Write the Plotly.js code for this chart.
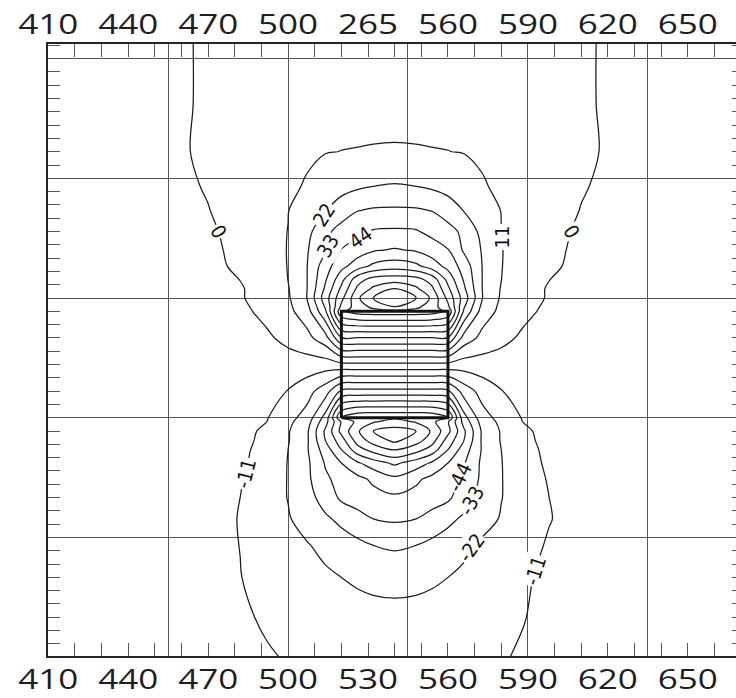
<!DOCTYPE html>
<html>
<head>
<meta charset="utf-8">
<script src="https://cdn.plot.ly/plotly-3.0.1.min.js"></script>
<style>
  html, body { margin: 0; padding: 0; background: #fff; overflow: hidden; }
  #chart { width: 760px; height: 698px; }
  /* wide tick numerals */
  g.xtick, g.x2tick { transform-box: fill-box; transform-origin: center; transform: scaleX(1.25); }
</style>
</head>
<body>
<div id="chart"></div>
<script>
// Axis tick labels
const xTickValues = [410, 440, 470, 500, 530, 560, 590, 620, 650];
const bottomTickText = ['410', '440', '470', '500', '530', '560', '590', '620', '650'];
const topTickText = ['410', '440', '470', '500', '265', '560', '590', '620', '650'];

// Sampling positions of the anomaly field
const gridX = [408, 435, 455, 470, 482, 492, 500, 507, 514, 520, 526, 532, 540,
               548, 554, 560, 566, 573, 580, 588, 598, 610, 625, 645, 672];
const gridY = [0, 15, 30, 42, 52, 60, 67, 73, 78, 81.5, 85, 88.5, 90, 100, 110,
               120, 130, 131.5, 135, 138.5, 142, 147, 153, 160, 168, 177, 190, 208, 231];

// Field values, one row per gridY entry
const fieldZ = [
  [-5.7, -6, -6.6, -7.7, -9, -10.3, -11.5, -12.4, -13.4, -14.2, -14.9, -15.3, -15.5, -15.3, -14.9, -14.2, -13.4, -12.4, -11.5, -10.3, -9, -7.7, -6.6, -6, -5.7],
  [-5.9, -6.2, -6.8, -8, -9.8, -12, -13.7, -15, -16.2, -17.2, -18, -18.6, -18.8, -18.6, -18, -17.2, -16.2, -15, -13.7, -11.3, -9.2, -8, -6.8, -6.2, -5.9],
  [-6, -6.3, -7, -8.5, -10.8, -13.7, -16, -18, -20.2, -22, -23.6, -24.8, -25.5, -24.8, -23.6, -22, -20.2, -18, -15, -11.8, -9.8, -8.5, -7, -6.3, -6],
  [-6, -6.3, -7, -8.5, -11.1, -15.2, -18.3, -21.2, -24.8, -28, -30.5, -33, -34.5, -33, -30.5, -28, -24, -20, -17, -13.5, -10.3, -8.5, -7, -6.3, -6],
  [-5.9, -6.2, -6.8, -8.3, -11.3, -16.7, -21.2, -26, -31.3, -35.5, -39.7, -44, -45.4, -44, -39.7, -35.5, -31.3, -26, -21.2, -16.7, -11.3, -8.3, -6.8, -6.2, -5.9],
  [-5.8, -6.1, -6.6, -8, -11, -17.2, -22.3, -28.8, -37.5, -46, -49.5, -51.5, -53.1, -51.5, -49.5, -46, -37.5, -28.8, -22.3, -17.2, -11, -8, -6.6, -6.1, -5.8],
  [-5.7, -6, -6.4, -7.6, -10.2, -16.3, -22.4, -30.4, -42.2, -47.7, -52, -57, -63.5, -57, -52, -47.7, -42.2, -30.4, -22.4, -16.3, -10.2, -7.6, -6.4, -6, -5.7],
  [-5.6, -5.9, -6.3, -7.4, -9.6, -14.5, -22.4, -30.5, -45, -55, -64.4, -72.1, -79, -72.1, -64.4, -55, -45, -30.5, -22.4, -14.5, -9.6, -7.4, -6.3, -5.9, -5.6],
  [-5.6, -5.8, -6.2, -7.2, -9.3, -13.6, -22, -31.6, -49.5, -66, -83.3, -92.3, -100, -92.3, -83.3, -66, -49.5, -31.6, -22, -13.6, -9.3, -7.2, -6.2, -5.8, -5.6],
  [-5.5, -5.7, -6.1, -7, -8.8, -13, -21.3, -30.9, -55, -72.3, -92.5, -104, -112.5, -104, -92.5, -72.3, -55, -30.9, -21.3, -13, -8.8, -7, -6.1, -5.7, -5.5],
  [-5.4, -5.6, -6, -6.8, -8.5, -12.5, -21.1, -30.8, -56.8, -80.3, -97.4, -110, -115, -110, -97.4, -80.3, -56.8, -30.8, -21.1, -12.5, -8.5, -6.8, -6, -5.6, -5.4],
  [-5.3, -5.5, -5.8, -6.4, -7.8, -11, -19.5, -28, -51, -78, -91, -98, -102.6, -98, -91, -78, -51, -28, -19.5, -11, -7.8, -6.4, -5.8, -5.5, -5.3],
  [-5.3, -5.4, -5.7, -6.2, -7.5, -10.4, -18.5, -26, -48, -88, -96.5, -97.5, -97.7, -97.5, -96.5, -88, -48, -26, -18.5, -10.4, -7.5, -6.2, -5.7, -5.4, -5.3],
  [-5.2, -5.3, -5.5, -5.8, -6.5, -8.5, -11.3, -17.7, -28, -46, -47.3, -47.5, -47.5, -47.5, -47.3, -46, -28, -17.7, -11.3, -8.5, -6.5, -5.8, -5.5, -5.3, -5.2],
  [-5, -5, -5, -5, -5, -4.8, -4.5, -4.8, -5.5, -3, -2.5, -2.4, -2.4, -2.4, -2.5, -3, -5.5, -4.8, -4.5, -4.8, -5, -5, -5, -5, -5],
  [-4.8, -4.6, -4.3, -3.8, -3, -1.5, 2.6, 7.5, 17.7, 43, 43.5, 43.5, 43.5, 43.5, 43.5, 43, 17.7, 7.5, 2.6, -1.5, -3, -3.8, -4.3, -4.6, -4.8],
  [-4.7, -4.4, -3.9, -3, -2.2, 2.5, 8.2, 16.8, 42.2, 86, 92.5, 94, 94.4, 94, 92.5, 86, 42.2, 16.8, 8.2, 2.5, -2.2, -3, -3.9, -4.4, -4.7],
  [-4.6, -4.3, -3.8, -2.8, -1.8, 3, 8.6, 18.3, 44.8, 80, 93.2, 101, 109.5, 101, 93.2, 80, 44.8, 18.3, 8.6, 3, -1.8, -2.8, -3.8, -4.3, -4.6],
  [-4.5, -4.2, -3.6, -2.5, -1, 4.6, 9.6, 21.8, 49.9, 73.8, 96.8, 110.5, 115, 110.5, 96.8, 73.8, 49.9, 21.8, 9.6, 4.6, -1, -2.5, -3.6, -4.2, -4.5],
  [-4.4, -4.1, -3.4, -2.2, -0.9, 4.6, 10.3, 21.5, 45.9, 68.3, 90, 101, 110.5, 101, 90, 68.3, 45.9, 21.5, 10.3, 4.6, -0.9, -2.2, -3.4, -4.1, -4.4],
  [-4.3, -4, -3.2, -2, 0.1, 5.5, 11.1, 21.5, 42.8, 62.3, 83.6, 92, 94, 92, 83.6, 62.3, 42.8, 21.5, 11.1, 5.5, 0.1, -2, -3.2, -4, -4.3],
  [-4.2, -3.8, -3, -1.8, 1.2, 6.2, 11.3, 21.5, 39.2, 51.6, 60.7, 68.5, 72, 68.5, 60.7, 51.6, 39.2, 21.5, 11.3, 6.2, 1.2, -1.8, -3, -3.8, -4.2],
  [-4.1, -3.6, -2.8, -1.6, 1.8, 6.5, 11.4, 21, 31.5, 44.6, 49.4, 54, 56, 54, 49.4, 44.6, 31.5, 21, 11.4, 6.5, 1.8, -1.6, -2.8, -3.6, -4.1],
  [-4, -3.5, -2.6, -1.2, 2.5, 6.8, 11.2, 18.5, 30.4, 37, 41, 45, 45.6, 45, 41, 37, 30.4, 18.5, 11.2, 6.8, 2.5, -1.2, -2.6, -3.5, -4],
  [-4, -3.3, -2.3, -0.2, 3, 6.5, 10.7, 17, 21.5, 27.5, 32.6, 34.2, 34.5, 34.2, 32.6, 27.5, 21.5, 17, 10.7, 6.5, 3, -0.2, -2.3, -3.3, -4],
  [-3.8, -3.2, -2, 0.5, 3.6, 6.3, 9.2, 11.8, 16, 18.2, 20.3, 22, 22.9, 22, 20.3, 18.2, 16, 11.8, 9.2, 6.3, 3.6, 0.5, -2, -3.2, -3.8],
  [-3.6, -3, -1.5, 1.2, 3.8, 6.2, 8, 9.6, 10.7, 11.1, 11.3, 11.5, 11.6, 11.5, 11.3, 11.1, 10.7, 9.6, 8, 6.2, 3.8, 1.2, -1.5, -3, -3.6],
  [-3.5, -2.8, -1.5, 0.9, 3, 4.8, 6, 6.8, 7.5, 7.9, 8.2, 8.4, 8.5, 8.4, 8.2, 7.9, 7.5, 6.8, 6, 4.8, 3, 0.9, -1.5, -2.8, -3.5],
  [-3, -2.2, -1, 0.6, 1.8, 3, 3.7, 4.2, 4.6, 4.8, 4.9, 5, 5, 5, 4.9, 4.8, 4.6, 4.2, 3.7, 3, 1.8, 0.6, -1, -2.2, -3]
];

// Contour levels: every 11 units, labelled band in the middle
const levelStep = 11;
const labelledLevels = [-44, 44];
const innerNegativeLevels = [-110, -55];
const innerPositiveLevels = [55, 110];

// Where each labelled contour carries its value
const contourLabels = [
  { level: 0,   x: 474,   y: 160,   angle: 60 },
  { level: 0,   x: 606.5, y: 160,   angle: 60 },
  { level: 11,  x: 580.3, y: 157.8, angle: -90 },
  { level: 22,  x: 513.5, y: 166.1, angle: -57 },
  { level: 33,  x: 515,   y: 154.4, angle: -60 },
  { level: 44,  x: 527,   y: 157.7, angle: -35 },
  { level: -11, x: 484,   y: 69,    angle: -76 },
  { level: -11, x: 592.8, y: 32.4,  angle: -72 },
  { level: -22, x: 568.8, y: 41,    angle: -54 },
  { level: -33, x: 568.8, y: 58.8,  angle: -62 },
  { level: -44, x: 564.2, y: 67.5,  angle: -65 }
];

// Outline of the source body
const bodyX = [520, 560, 560, 520, 520];
const bodyY = [90, 90, 130, 130, 90];

const lineColor = '#1c1c1c';
const labelFamily = '"DejaVu Sans Condensed", "Liberation Sans Narrow", "Roboto Condensed", "DejaVu Sans", sans-serif';

function contourTrace(levels, xa, ya) {
  return {
    type: 'contour',
    x: gridX,
    y: gridY,
    z: fieldZ,
    xaxis: xa,
    yaxis: ya,
    autocontour: false,
    contours: { start: levels[0], end: levels[1], size: levelStep, coloring: 'none', showlabels: false },
    line: { color: lineColor, width: 1.25, smoothing: 1 },
    showscale: false,
    hoverinfo: 'skip'
  };
}

const traces = [
  contourTrace(labelledLevels, 'x', 'y'),
  contourTrace(innerNegativeLevels, 'x3', 'y'),
  contourTrace(innerPositiveLevels, 'x', 'y2'),
  {
    type: 'scatter',
    mode: 'lines',
    x: bodyX,
    y: bodyY,
    xaxis: 'x2',
    yaxis: 'y',
    line: { color: '#111', width: 3 },
    hoverinfo: 'skip'
  }
];

const annotations = contourLabels.map(function (c) {
  return {
    xref: 'x', yref: 'y',
    x: c.x, y: c.y,
    text: String(c.level),
    textangle: c.angle,
    showarrow: false,
    bgcolor: '#ffffff',
    borderpad: 1,
    font: { family: labelFamily, size: 20, color: '#111' }
  };
});

const xRange = [409.9, 671.1];
const yRange = [0.45, 230.5];
const tickFont = { family: '"Open Sans", "Noto Sans", sans-serif', size: 28, color: '#1e1e1e' };
const tickColor = '#555';

const labelAxis = {
  range: xRange,
  tickmode: 'array',
  tickvals: xTickValues,
  ticks: 'inside',
  ticklen: 13,
  tickwidth: 1,
  tickcolor: tickColor,
  minor: { ticks: 'inside', ticklen: 13, tickwidth: 1, tickcolor: tickColor, tickmode: 'linear', tick0: 410, dtick: 10, showgrid: false },
  showgrid: false,
  zeroline: false,
  showline: true,
  linewidth: 2,
  linecolor: '#222',
  tickfont: tickFont,
  fixedrange: true
};

const layout = {
  width: 760,
  height: 698,
  margin: { l: 48, r: 16, t: 44, b: 42, pad: 0 },
  paper_bgcolor: '#fff',
  plot_bgcolor: '#fff',
  showlegend: false,
  hovermode: false,
  annotations: annotations,
  xaxis: Object.assign({}, labelAxis, { ticktext: bottomTickText, side: 'bottom', ticklabelstandoff: -3 }),
  xaxis2: Object.assign({}, labelAxis, { ticktext: topTickText, side: 'top', overlaying: 'x', anchor: 'y', ticklabelstandoff: -3 }),
  xaxis3: {
    range: xRange, overlaying: 'x', anchor: 'y',
    tickmode: 'linear', tick0: 455, dtick: 45,
    showgrid: true, gridcolor: '#555', gridwidth: 1,
    showticklabels: false, ticks: '', zeroline: false, showline: false, fixedrange: true
  },
  yaxis: {
    range: yRange,
    tickmode: 'linear', tick0: 0, dtick: 5,
    ticks: 'inside', ticklen: 12, tickwidth: 1, tickcolor: tickColor,
    showticklabels: false, showgrid: false, zeroline: false,
    showline: true, linewidth: 2, linecolor: '#222', mirror: 'ticks', fixedrange: true
  },
  yaxis2: {
    range: yRange, overlaying: 'y', anchor: 'x',
    tickmode: 'linear', tick0: 0, dtick: 45,
    showgrid: true, gridcolor: '#555', gridwidth: 1,
    showticklabels: false, ticks: '', zeroline: false, showline: false, fixedrange: true
  }
};

Plotly.newPlot('chart', traces, layout, { staticPlot: true, displayModeBar: false });
</script>
</body>
</html>
